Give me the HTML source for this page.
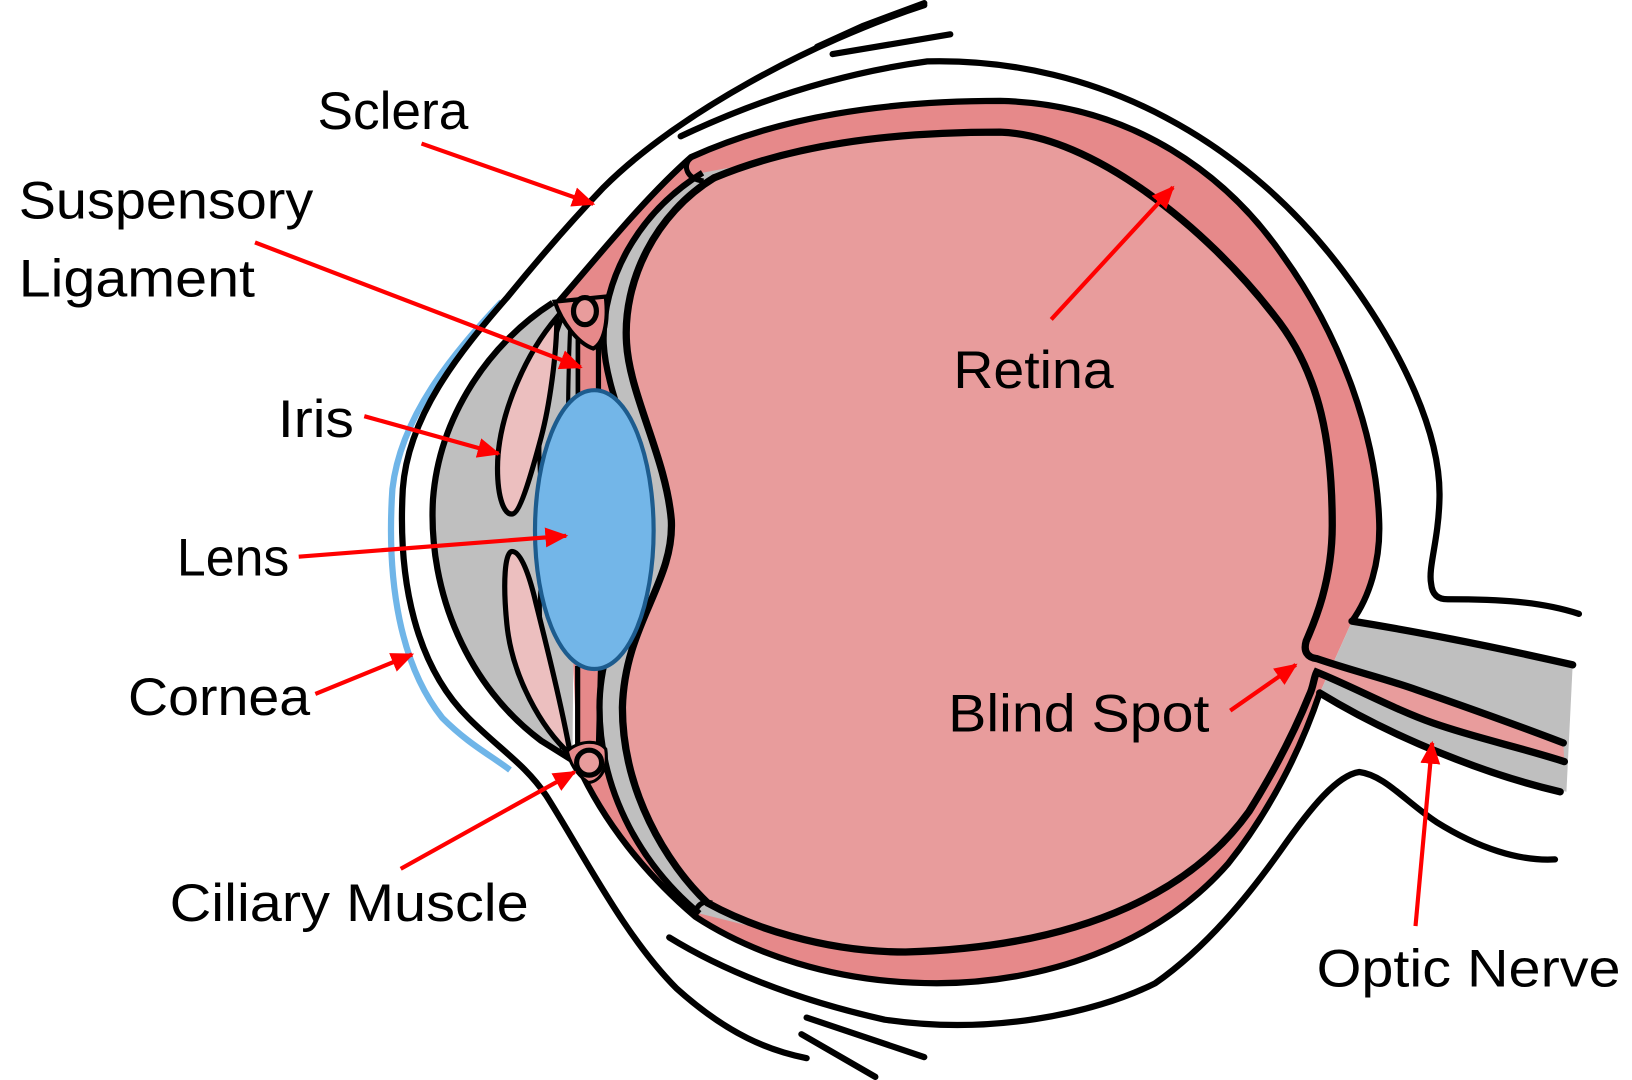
<!DOCTYPE html>
<html><head><meta charset="utf-8"><style>
html,body{margin:0;padding:0;background:#fff;}
svg{display:block;}
text{font-family:"Liberation Sans",sans-serif;font-size:51px;fill:#000;}
</style></head><body>
<svg width="1632" height="1080" viewBox="0 0 1568 1038" preserveAspectRatio="none" xmlns="http://www.w3.org/2000/svg">
<defs>
<marker id="ah" markerWidth="6" markerHeight="6" refX="5" refY="3" orient="auto" markerUnits="strokeWidth">
<path d="M0,0.6 L5.5,3 L0,5.4 Z" fill="#ff0000"/>
</marker>
</defs>
<rect width="1568" height="1038" fill="#fff"/>

<!-- choroid red -->
<path d="M664,151 C750,112 850,97 961,97 C1090,100 1180,170 1232,245 C1290,325 1322,420 1325,499 C1327,540 1315,575 1299,597 L1268,666 C1250,720 1220,780 1180,830 C1110,910 1000,945 900,945 C800,945 720,915 668,881 C620,840 580,790 555,735 L535,292 C580,240 620,190 664,151 Z" fill="#e6898a"/>
<path d="M535,292 C580,240 620,190 664,151 C750,112 850,97 961,97 C1090,100 1180,170 1232,245 C1290,325 1322,420 1325,499 C1327,540 1315,575 1299,597" fill="none" stroke="#000" stroke-width="6"/>
<path d="M1268,666 C1250,720 1220,780 1180,830 C1110,910 1000,945 900,945 C800,945 720,915 668,881 C620,840 580,790 555,735" fill="none" stroke="#000" stroke-width="6"/>

<!-- grey band -->
<path d="M675,166 C612,205 578,270 580,330 C583,385 618,440 622,500 C625,560 576,600 576,680 C576,765 620,835 672,878 L760,900 L760,150 Z" fill="#bfbfbf"/>
<path d="M675,166 C612,205 578,270 580,330 C583,385 618,440 622,500 C625,560 576,600 576,680 C576,765 620,835 672,878" fill="none" stroke="#000" stroke-width="6"/>

<!-- optic nerve -->
<path d="M1299,597 C1380,610 1450,625 1511,639 L1505,761 C1430,745 1340,710 1268,666 Z" fill="#bfbfbf"/>
<path d="M1299,597 C1380,610 1450,625 1511,639" fill="none" stroke="#000" stroke-width="7" stroke-linecap="round"/>
<path d="M1268,666 C1340,710 1430,745 1499,761" fill="none" stroke="#000" stroke-width="7" stroke-linecap="round"/>

<!-- vitreous -->
<path d="M686,171 C760,140 850,127 961,127 C1050,130 1160,220 1224,303 C1270,360 1280,430 1280,505 C1280,560 1262,600 1255,616 C1252,626 1256,632 1265,633 C1300,645 1330,652 1361,663 C1410,680 1460,698 1502,714 L1503,732 C1460,718 1420,710 1377,695 C1340,682 1300,660 1265,646 C1262,652 1262,660 1258,668 C1245,700 1225,740 1200,780 C1150,850 1050,910 870,915 C790,915 720,890 680,868 C640,830 598,760 598,680 C600,600 648,560 645,500 C640,440 605,380 602,330 C598,270 630,205 686,171 Z" fill="#e89c9c"/>
<path d="M686,171 C760,140 850,127 961,127 C1050,130 1160,220 1224,303 C1270,360 1280,430 1280,505 C1280,560 1262,600 1255,616 C1252,626 1256,632 1265,633 C1300,645 1330,652 1361,663 C1410,680 1460,698 1502,714" fill="none" stroke="#000" stroke-width="7" stroke-linecap="round"/>
<path d="M1503,732 C1460,718 1420,710 1377,695 C1340,682 1300,660 1265,646 C1262,652 1262,660 1258,668 C1245,700 1225,740 1200,780 C1150,850 1050,910 870,915 C790,915 720,890 680,868 C640,830 598,760 598,680 C600,600 648,560 645,500 C640,440 605,380 602,330 C598,270 630,205 686,171" fill="none" stroke="#000" stroke-width="7" stroke-linecap="round"/>
<path d="M664,151 C655,160 660,172 676,174" fill="none" stroke="#000" stroke-width="5"/>
<path d="M668,881 C668,870 675,865 684,868" fill="none" stroke="#000" stroke-width="5"/>

<!-- ciliary strips lines -->
<path d="M555,320 L555,385 M575,330 L575,380 M555,640 L555,720 M577,640 L575,715" stroke="#000" stroke-width="5" fill="none"/>

<!-- anterior chamber -->
<path d="M531,291 C470,330 422,400 416,480 C411,570 450,660 520,712 L550,730 L553,380 L553,300 Z" fill="#bfbfbf"/>
<path d="M531,291 C470,330 422,400 416,480 C411,570 450,660 520,712 L552,732" fill="none" stroke="#000" stroke-width="6"/>
<path d="M540,305 C520,360 515,420 520,470 M548,310 C545,380 545,430 548,470 M540,720 C525,670 515,600 520,560" stroke="#000" stroke-width="4" fill="none"/>

<!-- iris -->
<path d="M535,305 C505,340 478,400 478,450 C478,480 485,495 492,494 C500,494 512,450 520,420 C528,390 535,340 535,305 Z" fill="#ecbfbf" stroke="#000" stroke-width="5"/>
<path d="M492,530 C485,530 483,560 487,600 C492,650 520,700 548,725 C540,680 525,620 515,580 C508,550 500,530 492,530 Z" fill="#ecbfbf" stroke="#000" stroke-width="5"/>

<!-- ciliary muscles -->
<path d="M533,290 L582,285 C585,310 580,330 570,335 C555,330 540,310 533,290 Z" fill="#e6898a" stroke="#000" stroke-width="4"/>
<ellipse cx="562" cy="299" rx="11" ry="13" fill="#e89c9c" stroke="#000" stroke-width="5"/>
<path d="M545,722 C555,712 575,710 582,720 C585,740 575,752 565,752 C555,745 548,735 545,722 Z" fill="#e6898a" stroke="#000" stroke-width="3"/>
<circle cx="566" cy="733" r="12" fill="#e89c9c" stroke="#000" stroke-width="5"/>

<!-- lens -->
<path d="M571,375 C605,375 628,440 628,510 C628,580 605,643 571,643 C537,643 514,580 514,510 C514,440 537,375 571,375 Z" fill="#73b6e8" stroke="#1d5c8e" stroke-width="4"/>

<!-- cornea blue -->
<path d="M482,290 C435,340 385,400 377,470 C371,560 385,640 425,690 C450,715 470,725 490,740" fill="none" stroke="#6fb5e8" stroke-width="6"/>

<!-- skin / outer line -->
<path d="M888,5 C780,40 650,110 580,180 C540,222 510,258 488,285 C440,340 392,400 387,470 C382,560 400,640 450,690 C480,720 505,735 525,765 C560,820 600,900 650,950 C700,995 740,1010 775,1017" fill="none" stroke="#000" stroke-width="6" stroke-linecap="round"/>
<path d="M785,45 L829,25 L888,3" fill="none" stroke="#000" stroke-width="6" stroke-linecap="round"/>
<path d="M800,52 L913,33" fill="none" stroke="#000" stroke-width="6" stroke-linecap="round"/>
<path d="M775,978 L888,1016 M770,994 L841,1035" fill="none" stroke="#000" stroke-width="6" stroke-linecap="round"/>

<!-- sclera outer -->
<path d="M654,131 C730,95 810,70 891,59 C1060,55 1200,140 1290,260 C1350,340 1385,420 1383,480 C1382,520 1372,545 1375,561 C1376,572 1382,576 1391,576 C1440,576 1480,578 1517,590" fill="none" stroke="#000" stroke-width="6" stroke-linecap="round"/>
<path d="M643,901 C690,930 760,960 850,980 C950,995 1050,975 1110,945 C1160,910 1200,860 1230,818 C1260,775 1285,745 1306,742 C1330,745 1350,770 1380,790 C1420,815 1460,828 1494,826" fill="none" stroke="#000" stroke-width="6" stroke-linecap="round"/>

<!-- arrows -->
<g stroke="#ff0000" stroke-width="4" fill="none">
<line x1="405" y1="138" x2="570" y2="196" marker-end="url(#ah)"/>
<line x1="245" y1="233" x2="558" y2="353" marker-end="url(#ah)"/>
<line x1="350" y1="400" x2="479" y2="436" marker-end="url(#ah)"/>
<line x1="287" y1="535" x2="544" y2="515" marker-end="url(#ah)"/>
<line x1="303" y1="667" x2="396" y2="629" marker-end="url(#ah)"/>
<line x1="385" y1="835" x2="552" y2="742" marker-end="url(#ah)"/>
<line x1="1010" y1="307" x2="1127" y2="180" marker-end="url(#ah)"/>
<line x1="1182" y1="683" x2="1245" y2="639" marker-end="url(#ah)"/>
<line x1="1360" y1="890" x2="1376" y2="714" marker-end="url(#ah)"/>
</g>

<!-- labels -->
<text x="305" y="124" textLength="145" lengthAdjust="spacingAndGlyphs">Sclera</text>
<text x="18" y="210" textLength="283" lengthAdjust="spacingAndGlyphs">Suspensory</text>
<text x="18" y="285" textLength="227" lengthAdjust="spacingAndGlyphs">Ligament</text>
<text x="267" y="420" textLength="73" lengthAdjust="spacingAndGlyphs">Iris</text>
<text x="170" y="553" textLength="108" lengthAdjust="spacingAndGlyphs">Lens</text>
<text x="123" y="687" textLength="175" lengthAdjust="spacingAndGlyphs">Cornea</text>
<text x="163" y="885" textLength="345" lengthAdjust="spacingAndGlyphs">Ciliary Muscle</text>
<text x="916" y="373" textLength="154" lengthAdjust="spacingAndGlyphs">Retina</text>
<text x="911" y="703" textLength="251" lengthAdjust="spacingAndGlyphs">Blind Spot</text>
<text x="1265" y="948" textLength="292" lengthAdjust="spacingAndGlyphs">Optic Nerve</text>
</svg>
</body></html>
